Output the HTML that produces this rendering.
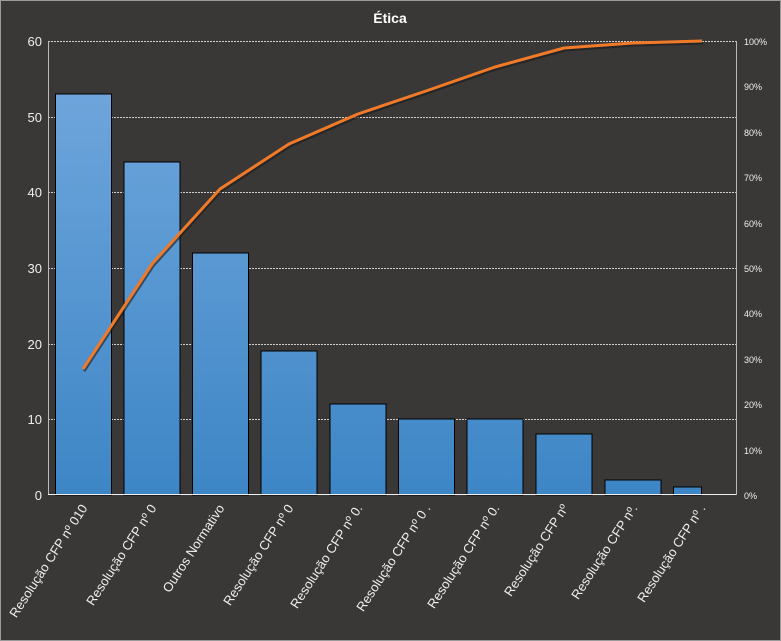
<!DOCTYPE html>
<html><head><meta charset="utf-8"><style>
html,body{margin:0;padding:0;background:#393837;}
svg{display:block;font-family:"Liberation Sans",sans-serif;}
</style></head><body>
<svg width="781" height="641" viewBox="0 0 781 641" xmlns="http://www.w3.org/2000/svg">
<defs>
<linearGradient id="g" x1="0" y1="0" x2="0" y2="1" gradientUnits="userSpaceOnUse" gradientTransform="translate(0,41) scale(1,454)">
<stop offset="0" stop-color="#74a9de"/><stop offset="1" stop-color="#3d86c6"/>
</linearGradient>
</defs>
<rect x="0.5" y="0.5" width="780" height="640" fill="#393837" stroke="#9a9a9a"/>
<text x="390" y="23" fill="#fff" font-size="14" font-weight="bold" text-anchor="middle">Ética</text>
<g stroke="#cfcfcf" stroke-dasharray="2,1" stroke-width="1">
<line x1="48" y1="41.5" x2="736" y2="41.5"/>
<line x1="48" y1="117.5" x2="736" y2="117.5"/>
<line x1="48" y1="192.5" x2="736" y2="192.5"/>
<line x1="48" y1="268.5" x2="736" y2="268.5"/>
<line x1="48" y1="344.5" x2="736" y2="344.5"/>
<line x1="48" y1="419.5" x2="736" y2="419.5"/>
</g>
<line x1="48.5" y1="41" x2="48.5" y2="495" stroke="#bbb"/>
<line x1="736.5" y1="41" x2="736.5" y2="495" stroke="#bbb"/>
<g fill="url(#g)" stroke="#000" stroke-width="1">
<rect x="55.5" y="94" width="56" height="401"/>
<rect x="124" y="162" width="56" height="333"/>
<rect x="192.5" y="253" width="56" height="242"/>
<rect x="261" y="351" width="56" height="144"/>
<rect x="330" y="404" width="56" height="91"/>
<rect x="398.5" y="419" width="56" height="76"/>
<rect x="467" y="419" width="56" height="76"/>
<rect x="536" y="434" width="56" height="61"/>
<rect x="605" y="480" width="56" height="15"/>
<rect x="673.5" y="487" width="28" height="8"/>
</g>
<line x1="48" y1="494.5" x2="736" y2="494.5" stroke="#eee"/>
<g fill="#eee" font-size="13" text-anchor="end">
<text x="42" y="46">60</text><text x="42" y="122">50</text><text x="42" y="197">40</text>
<text x="42" y="273">30</text><text x="42" y="349">20</text><text x="42" y="424">10</text><text x="42" y="500">0</text>
</g>
<g fill="#eee" font-size="9" text-anchor="start">
<text x="744" y="45">100%</text><text x="744" y="90">90%</text><text x="744" y="136">80%</text>
<text x="744" y="181">70%</text><text x="744" y="227">60%</text><text x="744" y="272">50%</text>
<text x="744" y="317">40%</text><text x="744" y="363">30%</text><text x="744" y="408">20%</text>
<text x="744" y="454">10%</text><text x="744" y="499">0%</text>
</g>
<polyline fill="none" stroke="#1a1a1a" stroke-opacity="0.6" stroke-width="3" transform="translate(1,2)" points="83,369 152,264 220,189 289,144 358,114 426,91 495,67 564,48 633,43 702,41"/>
<polyline fill="none" stroke="#f07a28" stroke-width="3" stroke-linejoin="round" points="83,369 152,264 220,189 289,144 358,114 426,91 495,67 564,48 633,43 702,41"/>
<g fill="#eee" font-size="13" text-anchor="end">
<text transform="translate(88,508) rotate(-57)">Resolução CFP nº 010</text>
<text transform="translate(157,508) rotate(-57)">Resolução CFP nº 0</text>
<text transform="translate(225,508) rotate(-57)">Outros  Normativo</text>
<text transform="translate(294,508) rotate(-57)">Resolução CFP nº 0</text>
<text transform="translate(363,508) rotate(-57)">Resolução CFP nº 0.</text>
<text transform="translate(431,508) rotate(-57)">Resolução CFP nº 0 .</text>
<text transform="translate(500,508) rotate(-57)">Resolução CFP nº 0.</text>
<text transform="translate(569,508) rotate(-57)">Resolução CFP nº</text>
<text transform="translate(638,508) rotate(-57)">Resolução CFP nº.</text>
<text transform="translate(706,508) rotate(-57)">Resolução CFP nº .</text>
</g>
</svg>
</body></html>
